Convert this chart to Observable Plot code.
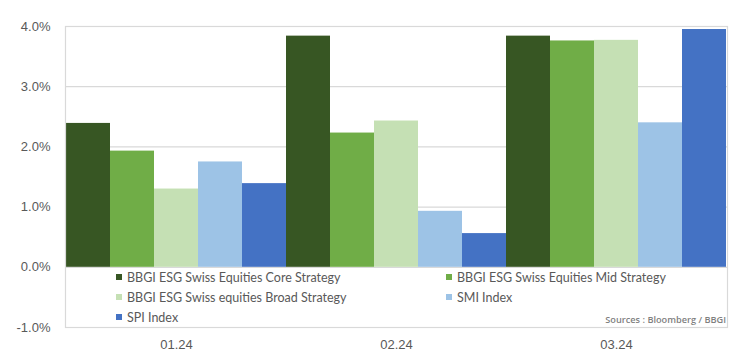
<!DOCTYPE html>
<html>
<head>
<meta charset="utf-8">
<script src="https://cdn.jsdelivr.net/npm/d3@7"></script>
<script src="https://cdn.jsdelivr.net/npm/@observablehq/plot@0.6"></script>
<style>
  html, body { margin: 0; padding: 0; background: #fff; }
  #wrap { position: relative; width: 731px; height: 353px; overflow: hidden; }
  #wrap svg { position: absolute; left: 0; top: 0; }
  .legend { position: absolute; left: 0; top: 0; width: 731px; height: 353px; font-family: Lato, "Open Sans", sans-serif; font-size: 12.5px; color: #595959; white-space: nowrap; }
  .legend .item { position: absolute; display: flex; align-items: center; }
  .legend .sw { width: 6px; height: 6px; margin-right: 5px; }
  .src { position: absolute; font-family: "Open Sans", sans-serif; font-size: 9.2px; font-weight: 600; color: #7f7f7f; white-space: nowrap; }
</style>
</head>
<body>
<div id="wrap"></div>
<script>
const months = ["01.24", "02.24", "03.24"];
const seriesNames = [
  "BBGI ESG Swiss Equities Core Strategy",
  "BBGI ESG Swiss Equities Mid Strategy",
  "BBGI ESG Swiss equities Broad Strategy",
  "SMI Index",
  "SPI Index"
];
const seriesColors = ["#375623", "#70ad47", "#c5e0b4", "#9dc3e6", "#4472c4"];
const coreValues  = [2.39, 3.84, 3.84];
const midValues   = [1.93, 2.23, 3.76];
const broadValues = [1.30, 2.43, 3.77];
const smiValues   = [1.75, 0.93, 2.40];
const spiValues   = [1.39, 0.56, 3.95];
const yTicks = [-1, 0, 1, 2, 3, 4];
const sourceText = "Sources : Bloomberg / BBGI";

const allValues = [coreValues, midValues, broadValues, smiValues, spiValues];
const data = [];
months.forEach((m, i) => {
  seriesNames.forEach((s, j) => {
    data.push({month: m, series: s, key: m + "|" + j, value: allValues[j][i]});
  });
});
const keys = data.map(d => d.key);
const midKeys = months.map(m => m + "|2");

const chart = Plot.plot({
  width: 731,
  height: 353,
  marginLeft: 65,
  marginRight: 4,
  marginTop: 26,
  marginBottom: 26,
  style: {fontFamily: "Liberation Sans, Arial, sans-serif", fontSize: "13px", color: "#595959", background: "#fff"},
  x: {type: "band", domain: keys, padding: 0, ticks: midKeys, tickFormat: k => k.split("|")[0], tickSize: 0, tickPadding: 12, label: null},
  y: {domain: [-1, 4], ticks: yTicks, tickFormat: d => d.toFixed(1) + "%", tickSize: 0, tickPadding: 15, label: null},
  color: {domain: seriesNames, range: seriesColors},
  marks: [
    Plot.ruleY(yTicks, {stroke: "#d9d9d9", strokeWidth: 1.2}),
    Plot.barY(data, {x: "key", y: "value", fill: "series", inset: 0}),
    Plot.frame({stroke: "#d9d9d9", strokeWidth: 1.2})
  ]
});

const wrap = document.getElementById("wrap");
wrap.appendChild(chart);

const legend = document.createElement("div");
legend.className = "legend";
const pos = [[116, 277], [446, 277], [116, 297], [446, 297], [116, 317]];
seriesNames.forEach((s, j) => {
  const it = document.createElement("div");
  it.className = "item";
  it.style.left = pos[j][0] + "px";
  it.style.top = (pos[j][1] - 9) + "px";
  it.style.height = "18px";
  const sw = document.createElement("span");
  sw.className = "sw";
  sw.style.background = seriesColors[j];
  const tx = document.createElement("span");
  tx.textContent = s;
  it.appendChild(sw);
  it.appendChild(tx);
  legend.appendChild(it);
});
wrap.appendChild(legend);

const src = document.createElement("div");
src.className = "src";
src.textContent = sourceText;
src.style.right = "5px";
src.style.top = "313px";
wrap.appendChild(src);
</script>
</body>
</html>
